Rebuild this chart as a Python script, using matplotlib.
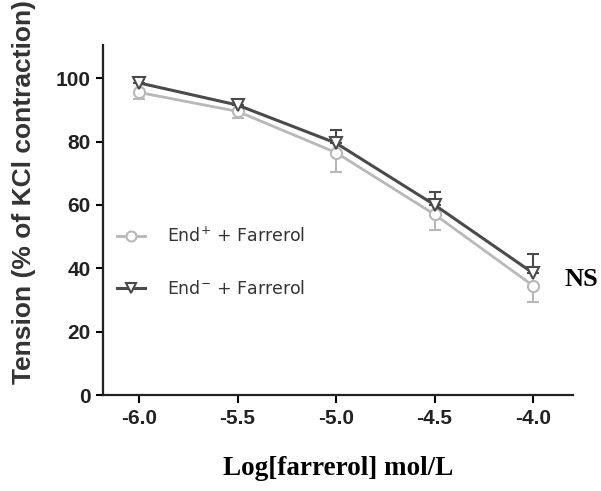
import numpy as np
import matplotlib
matplotlib.use("Agg")
import matplotlib.pyplot as plt

# log concentration of farrerol (mol/L)
log_conc = [-6.0, -5.5, -5.0, -4.5, -4.0]

# tension, % of KCl contraction
end_plus = [95.5, 89.5, 76.5, 57.0, 34.5]
end_plus_sem = [2.0, 2.0, 6.0, 5.0, 5.0]
end_minus = [98.5, 91.5, 79.5, 60.0, 38.5]
end_minus_sem = [1.5, 1.5, 4.0, 4.0, 6.0]

xticks = [-6.0, -5.5, -5.0, -4.5, -4.0]
yticks = [0, 20, 40, 60, 80, 100]

light = "#b8b8b8"
dark = "#4a4a4a"

plt.rcParams["mathtext.fontset"] = "dejavusans"

fig = plt.figure(figsize=(6.01, 4.91), dpi=100)
ax = fig.add_axes([0.1714, 0.1955, 0.782, 0.7125])

# error bars: lower for End+, upper for End-
ax.errorbar(log_conc, end_plus, yerr=[end_plus_sem, [0] * 5], fmt="none",
            ecolor=light, capsize=4, elinewidth=1.5, capthick=1.5, zorder=2)
ax.errorbar(log_conc, end_minus, yerr=[[0] * 5, end_minus_sem], fmt="none",
            ecolor=dark, capsize=4, elinewidth=1.5, capthick=1.5, zorder=3)

ax.plot(log_conc, end_plus, color=light, lw=2.0, marker="o", ms=8,
        mfc="white", mec=light, mew=1.5, label="End$^{+}$ + Farrerol", zorder=4)
ax.plot(log_conc, end_minus, color=dark, lw=2.2, marker="v", ms=8,
        mfc="white", mec=dark, mew=1.5, label="End$^{-}$ + Farrerol", zorder=5)

ax.set_xlim(-6.183, -3.797)
ax.set_ylim(0, 110.4)
ax.set_xticks(xticks)
ax.set_xticklabels([f"{t:.1f}" for t in xticks], fontfamily="Liberation Sans",
                   fontweight="bold", fontsize=15, color="#222222")
ax.set_yticks(yticks)
ax.set_yticklabels([str(t) for t in yticks], fontfamily="Liberation Sans",
                   fontweight="bold", fontsize=15, color="#222222")
ax.tick_params(axis="x", direction="out", length=6, width=1.5, pad=4)
ax.tick_params(axis="y", direction="out", length=5, width=1.5, pad=4)

for side in ["top", "right"]:
    ax.spines[side].set_visible(False)
for side in ["left", "bottom"]:
    ax.spines[side].set_linewidth(1.6)
    ax.spines[side].set_color("#222222")

leg = ax.legend(loc="center left", bbox_to_anchor=(0.03, 0.379), frameon=False,
                borderpad=0, borderaxespad=0, handlelength=1.6,
                handletextpad=1.3, labelspacing=2.0, markerscale=0.9,
                prop={"family": "DejaVu Sans", "size": 12.5})
for t in leg.get_texts():
    t.set_color("#333333")

fig.text(0.5624, 0.045, "Log[farrerol] mol/L", ha="center", va="center",
         fontfamily="Liberation Serif", fontweight="bold", fontsize=19.5)
fig.text(0.04, 0.609, "Tension (% of KCl contraction)", rotation=90,
         ha="center", va="center", fontfamily="Liberation Sans",
         fontweight="bold", fontsize=19, color="#333333")
fig.text(0.968, 0.43, "NS", ha="center", va="center",
         fontfamily="Liberation Serif", fontweight="bold", fontsize=19)

fig.savefig("out.png", dpi=100)
